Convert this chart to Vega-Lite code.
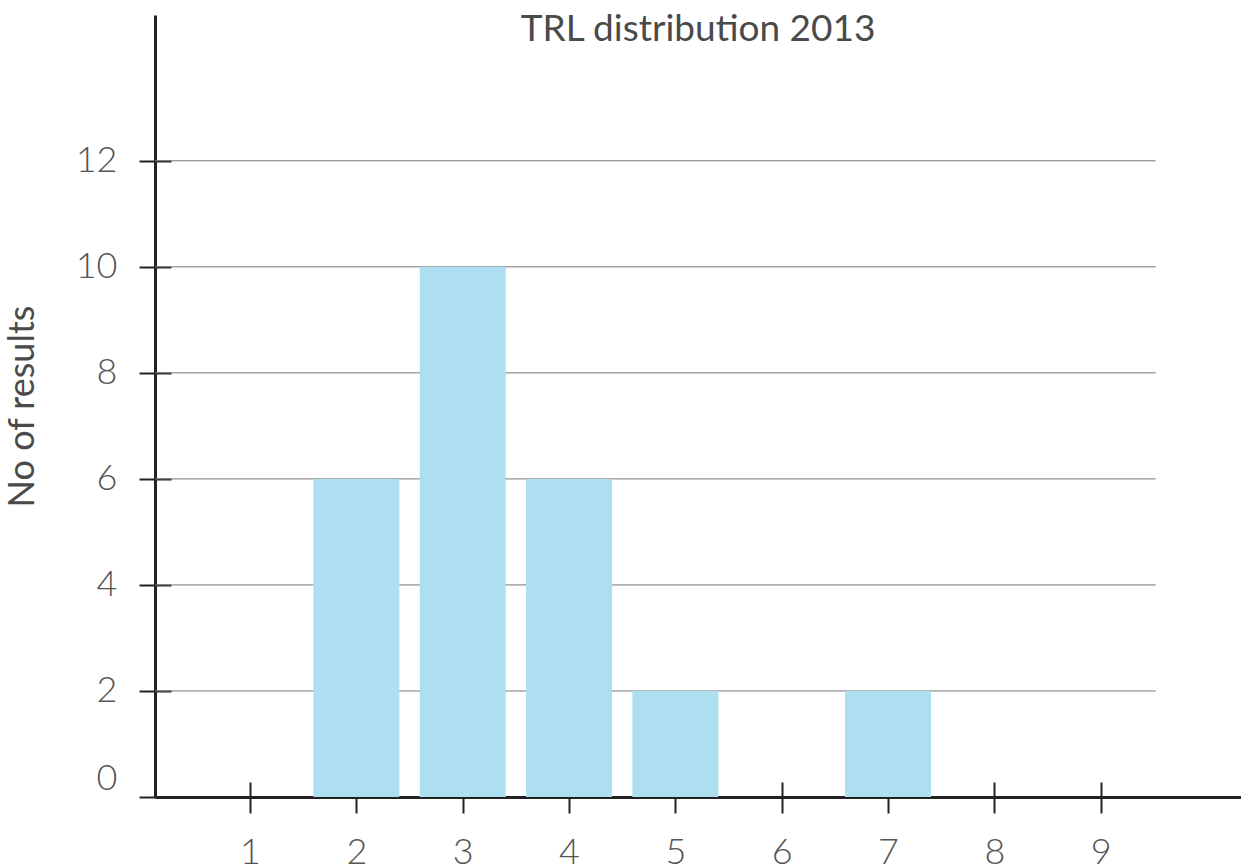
{
  "$schema": "https://vega.github.io/schema/vega-lite/v6.json",
  "width": 1086,
  "height": 782,
  "autosize": {"type": "none"},
  "padding": {"left": 155, "top": 15, "right": 0, "bottom": 69},
  "background": "white",
  "config": {"view": {"stroke": null}, "font": "Lato"},
  "title": {
    "text": "TRL distribution 2013",
    "anchor": "middle",
    "orient": "top",
    "offset": -29,
    "dy": 34,
    "baseline": "alphabetic",
    "fontSize": 37,
    "fontWeight": "normal",
    "color": "#4a4a4a",
    "font": "Lato"
  },
  "datasets": {
    "bars": [
      {"trl": 1, "n": 0},
      {"trl": 2, "n": 6},
      {"trl": 3, "n": 10},
      {"trl": 4, "n": 6},
      {"trl": 5, "n": 2},
      {"trl": 6, "n": 0},
      {"trl": 7, "n": 2},
      {"trl": 8, "n": 0},
      {"trl": 9, "n": 0}
    ],
    "grid": [{"v": 2}, {"v": 4}, {"v": 6}, {"v": 8}, {"v": 10}, {"v": 12}]
  },
  "layer": [
    {
      "data": {"name": "grid"},
      "mark": {"type": "rule", "color": "#777777", "strokeWidth": 1},
      "encoding": {
        "y": {
          "field": "v",
          "type": "quantitative",
          "scale": {"domain": [0, 14.75], "nice": false, "zero": true, "padding": 0},
          "axis": {
            "orient": "left",
            "values": [0, 2, 4, 6, 8, 10, 12],
            "tickSize": -16,
            "tickWidth": 2,
            "tickColor": "#222222",
            "labels": false,
            "domain": false,
            "grid": false,
            "title": null
          }
        },
        "x": {
          "datum": 0.106,
          "type": "quantitative",
          "scale": {"domain": [0.106, 10.32], "nice": false, "zero": false, "padding": 0},
          "axis": {
            "orient": "bottom",
            "values": [1, 2, 3, 4, 5, 6, 7, 8, 9],
            "tickSize": -15,
            "tickWidth": 2,
            "tickColor": "#222222",
            "labels": false,
            "domain": false,
            "grid": false,
            "title": null
          }
        },
        "x2": {"datum": 9.517}
      }
    },
    {
      "data": {"name": "bars"},
      "mark": {"type": "bar", "size": 86, "color": "#addff1"},
      "encoding": {
        "x": {
          "field": "trl",
          "type": "quantitative",
          "axis": {
            "orient": "bottom",
            "values": [1, 2, 3, 4, 5, 6, 7, 8, 9],
            "domain": true,
            "domainWidth": 3,
            "domainColor": "#222222",
            "tickSize": 16,
            "tickWidth": 2,
            "tickColor": "#222222",
            "labelFontSize": 36,
            "labelFont": "Lato",
            "labelFontWeight": 300,
            "labelColor": "#555555",
            "labelPadding": 22,
            "grid": false,
            "title": null
          }
        },
        "y": {
          "field": "n",
          "type": "quantitative",
          "axis": {
            "orient": "left",
            "values": [0, 2, 4, 6, 8, 10, 12],
            "domain": true,
            "domainWidth": 3,
            "domainColor": "#222222",
            "tickSize": 16,
            "tickWidth": 2,
            "tickColor": "#222222",
            "labelFontSize": 36,
            "labelFont": "Lato",
            "labelFontWeight": 300,
            "labelColor": "#555555",
            "labelPadding": 22,
            "labelFlush": true,
            "grid": false,
            "title": "No of results",
            "titleFont": "Lato",
            "titleFontSize": 36,
            "titleFontWeight": "normal",
            "titleColor": "#4a4a4a",
            "titlePadding": 34
          }
        }
      }
    }
  ],
  "resolve": {"axis": {"x": "independent", "y": "independent"}}
}
